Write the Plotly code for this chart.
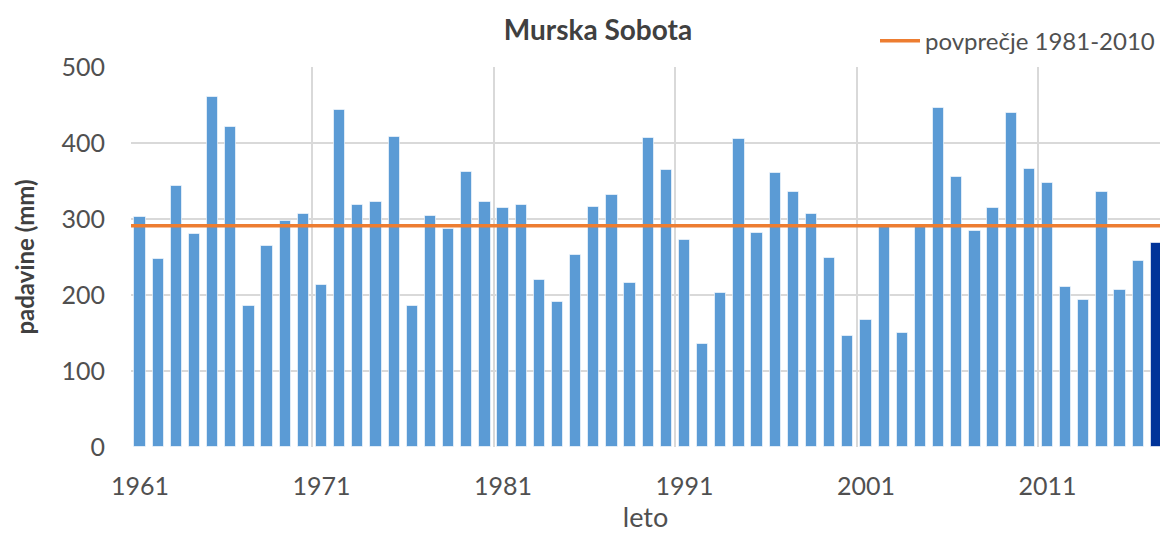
import plotly.graph_objects as go

years = list(range(1961, 2018))
padavine = [
    303, 248, 343, 280, 460, 421, 186, 264, 298, 307,
    213, 444, 318, 322, 408, 186, 304, 287, 362, 323,
    314, 318, 220, 191, 252, 316, 332, 216, 406, 365,
    273, 136, 203, 405, 282, 361, 336, 306, 249, 146,
    167, 290, 150, 290, 446, 355, 284, 314, 440, 366,
    347, 211, 193, 335, 207, 245, 268,
]
povprecje = 291
tick_labels = ["1961", "1971", "1981", "1991", "2001", "2011"]

bar_colors = ["#5B9BD5"] * (len(years) - 1) + ["#003399"]
font_family = "Lato, sans-serif"
text_col = "#505050"

fig = go.Figure()
fig.add_trace(go.Bar(
    x=years, y=padavine, width=0.62,
    marker=dict(color=bar_colors, line=dict(color="rgba(255,255,255,0.6)", width=1)),
    showlegend=False, hoverinfo="x+y",
))
fig.add_trace(go.Scatter(
    x=[years[0] - 0.5, years[-1] + 0.5], y=[povprecje, povprecje],
    mode="lines", line=dict(color="#ED7D31", width=3.5),
    name="povprečje 1981-2010",
))

tick_pos = [int(t) for t in tick_labels]

fig.update_layout(
    width=1160, height=533,
    margin=dict(l=131, r=0, t=67, b=86, autoexpand=False),
    paper_bgcolor="white", plot_bgcolor="white",
    font=dict(family=font_family, color=text_col, size=24),
    title=dict(text="<b>Murska Sobota</b>", x=598 / 1160, xanchor="center",
               y=1 - 30 / 533, yanchor="middle",
               font=dict(size=28, color="#404040", family=font_family)),
    legend=dict(x=1.0, xanchor="right", y=1.068, yanchor="middle",
                bgcolor="rgba(0,0,0,0)", font=dict(size=24, color=text_col),
                itemwidth=40, tracegroupgap=0),
    bargap=0,
)
fig.update_xaxes(
    range=[1960.5, 2017.2], tickmode="array", tickvals=tick_pos, ticktext=tick_labels,
    showgrid=False, zeroline=False,
    minor=dict(tick0=1960.5, dtick=10, showgrid=True, gridcolor="#D9D9D9",
               gridwidth=1.5, ticks=""),
    showline=False, ticks="", ticklen=0, ticklabelstandoff=22,
    tickfont=dict(size=25, color=text_col),
    title=dict(text="leto", font=dict(size=27, color=text_col), standoff=6),
)
fig.update_yaxes(
    range=[0, 500], tickvals=[0, 100, 200, 300, 400, 500],
    showgrid=True, gridcolor="#D9D9D9", gridwidth=1.5, zeroline=False,
    showline=False, ticks="", ticklen=0, ticklabelstandoff=25,
    tickfont=dict(size=25, color=text_col),
    title=dict(text="<b>padavine (mm)</b>", font=dict(size=24, color="#404040"), standoff=20),
)

fig.write_html("out.html", config={"displayModeBar": False},
               post_script="document.body.style.margin='0';")
